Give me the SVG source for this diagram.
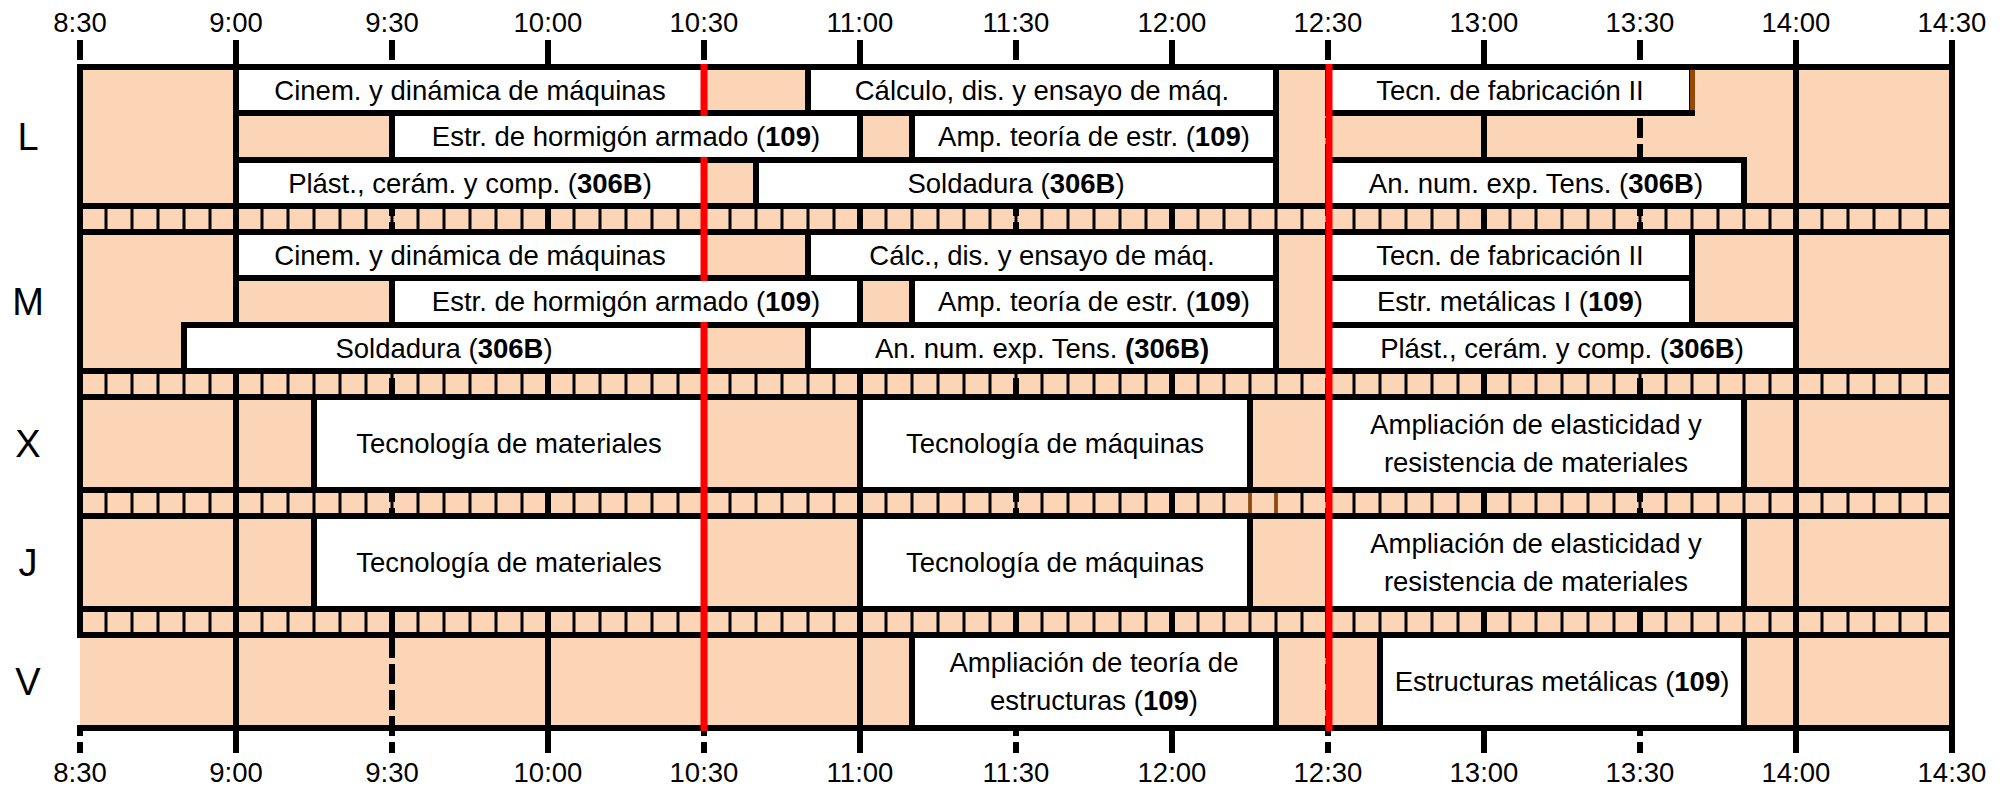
<svg xmlns="http://www.w3.org/2000/svg" width="2005" height="787" viewBox="0 0 2005 787">
<style>
text{font-family:'Liberation Sans',Arial,sans-serif;fill:#000}
.t{font-size:27.5px;text-anchor:middle}
.d{font-size:38px;text-anchor:middle}
.b{font-weight:bold}
.box{fill:#fff;stroke:#000;stroke-width:6}
.hl{stroke:#000;stroke-width:6;stroke-linecap:square}
.vs{stroke:#000;stroke-width:6}
.vd{stroke:#000;stroke-width:6;stroke-dasharray:20 6}
.band{stroke:#000;stroke-dasharray:3 23;stroke-dashoffset:1.5}
.red{stroke:#f00;stroke-width:7}
.brown{stroke:#974806}
</style>
<rect id="background" x="80" y="67" width="1872" height="661" fill="#FBD5B5"/>
<g id="bands">
<line class="band" x1="80" y1="219" x2="1952" y2="219" stroke-width="26"/>
<line class="band" x1="80" y1="384" x2="1952" y2="384" stroke-width="26"/>
<line class="band" x1="80" y1="503" x2="1952" y2="503" stroke-width="26"/>
<line class="band" x1="80" y1="622" x2="1952" y2="622" stroke-width="26"/>
<line class="brown" x1="1250" y1="493" x2="1250" y2="513" stroke-width="3"/>
<line class="brown" x1="1276" y1="493" x2="1276" y2="513" stroke-width="3"/>
</g>
<g id="connectors">
<line class="vd" x1="80" y1="40" x2="80" y2="64"/>
<line class="vd" x1="80" y1="731" x2="80" y2="753" style="stroke-dashoffset:15"/>
<line class="vs" x1="80" y1="64" x2="80" y2="638"/>
<line class="vs" x1="236" y1="40" x2="236" y2="753"/>
<line class="vd" x1="392" y1="40" x2="392" y2="753"/>
<line class="vs" x1="548" y1="40" x2="548" y2="753"/>
<line class="vd" x1="704" y1="40" x2="704" y2="753"/>
<line class="vs" x1="860" y1="40" x2="860" y2="753"/>
<line class="vd" x1="1016" y1="40" x2="1016" y2="753"/>
<line class="vs" x1="1172" y1="40" x2="1172" y2="753"/>
<line class="vd" x1="1328" y1="40" x2="1328" y2="753"/>
<line class="vs" x1="1484" y1="40" x2="1484" y2="753"/>
<line class="vd" x1="1640" y1="40" x2="1640" y2="753"/>
<line class="vs" x1="1796" y1="40" x2="1796" y2="753"/>
<line class="vs" x1="1952" y1="40" x2="1952" y2="753"/>
<line class="hl" x1="80" y1="67" x2="1952" y2="67"/>
<line class="hl" x1="80" y1="206" x2="1952" y2="206"/>
<line class="hl" x1="80" y1="232" x2="1952" y2="232"/>
<line class="hl" x1="80" y1="371" x2="1952" y2="371"/>
<line class="hl" x1="80" y1="397" x2="1952" y2="397"/>
<line class="hl" x1="80" y1="490" x2="1952" y2="490"/>
<line class="hl" x1="80" y1="516" x2="1952" y2="516"/>
<line class="hl" x1="80" y1="609" x2="1952" y2="609"/>
<line class="hl" x1="80" y1="635" x2="1952" y2="635"/>
<line class="hl" x1="80" y1="728" x2="1952" y2="728"/>
</g>
<g id="time-labels">
<text class="t" x="80" y="32">8:30</text><text class="t" x="236" y="32">9:00</text><text class="t" x="392" y="32">9:30</text><text class="t" x="548" y="32">10:00</text><text class="t" x="704" y="32">10:30</text><text class="t" x="860" y="32">11:00</text><text class="t" x="1016" y="32">11:30</text><text class="t" x="1172" y="32">12:00</text><text class="t" x="1328" y="32">12:30</text><text class="t" x="1484" y="32">13:00</text><text class="t" x="1640" y="32">13:30</text><text class="t" x="1796" y="32">14:00</text><text class="t" x="1952" y="32">14:30</text>
<text class="t" x="80" y="782">8:30</text><text class="t" x="236" y="782">9:00</text><text class="t" x="392" y="782">9:30</text><text class="t" x="548" y="782">10:00</text><text class="t" x="704" y="782">10:30</text><text class="t" x="860" y="782">11:00</text><text class="t" x="1016" y="782">11:30</text><text class="t" x="1172" y="782">12:00</text><text class="t" x="1328" y="782">12:30</text><text class="t" x="1484" y="782">13:00</text><text class="t" x="1640" y="782">13:30</text><text class="t" x="1796" y="782">14:00</text><text class="t" x="1952" y="782">14:30</text>
</g>
<g id="day-labels">
<text class="d" x="28" y="150">L</text><text class="d" x="28" y="315">M</text><text class="d" x="28" y="457">X</text><text class="d" x="28" y="576">J</text><text class="d" x="28" y="695">V</text>
</g>
<g id="L-cinem"><rect class="box" x="236" y="67" width="468" height="46"/><text class="t" x="470" y="100">Cinem. y dinámica de máquinas</text></g>
<g id="L-calculo"><rect class="box" x="808" y="67" width="468" height="46"/><text class="t" x="1042" y="100">Cálculo, dis. y ensayo de máq.</text></g>
<g id="L-tecn"><rect class="box" x="1328" y="67" width="364" height="46"/><text class="t" x="1510" y="100">Tecn. de fabricación II</text><line class="brown" x1="1692.5" y1="70" x2="1692.5" y2="110" stroke-width="5"/></g>
<g id="L-estr"><rect class="box" x="392" y="113" width="468" height="47"/><text class="t" x="626" y="146.3">Estr. de hormigón armado (<tspan class="b">109</tspan>)</text></g>
<g id="L-amp"><rect class="box" x="912" y="113" width="364" height="47"/><text class="t" x="1094" y="146.3">Amp. teoría de estr. (<tspan class="b">109</tspan>)</text></g>
<g id="L-plast"><rect class="box" x="236" y="160" width="468" height="46"/><text class="t" x="470" y="192.8">Plást., cerám. y comp. (<tspan class="b">306B</tspan>)</text></g>
<g id="L-sold"><rect class="box" x="756" y="160" width="520" height="46"/><text class="t" x="1016" y="192.8">Soldadura (<tspan class="b">306B</tspan>)</text></g>
<g id="L-annum"><rect class="box" x="1328" y="160" width="416" height="46"/><text class="t" x="1536" y="192.8">An. num. exp. Tens. (<tspan class="b">306B</tspan>)</text></g>
<g id="M-cinem"><rect class="box" x="236" y="232" width="468" height="46"/><text class="t" x="470" y="264.8">Cinem. y dinámica de máquinas</text></g>
<g id="M-calc"><rect class="box" x="808" y="232" width="468" height="46"/><text class="t" x="1042" y="264.8">Cálc., dis. y ensayo de máq.</text></g>
<g id="M-tecn"><rect class="box" x="1328" y="232" width="364" height="46"/><text class="t" x="1510" y="264.8">Tecn. de fabricación II</text></g>
<g id="M-estr"><rect class="box" x="392" y="278" width="468" height="47"/><text class="t" x="626" y="311.3">Estr. de hormigón armado (<tspan class="b">109</tspan>)</text></g>
<g id="M-amp"><rect class="box" x="912" y="278" width="364" height="47"/><text class="t" x="1094" y="311.3">Amp. teoría de estr. (<tspan class="b">109</tspan>)</text></g>
<g id="M-metal"><rect class="box" x="1328" y="278" width="364" height="47"/><text class="t" x="1510" y="311.3">Estr. metálicas I (<tspan class="b">109</tspan>)</text></g>
<g id="M-sold"><rect class="box" x="184" y="325" width="520" height="46"/><text class="t" x="444" y="357.8">Soldadura (<tspan class="b">306B</tspan>)</text></g>
<g id="M-annum"><rect class="box" x="808" y="325" width="468" height="46"/><text class="t" x="1042" y="357.8">An. num. exp. Tens. <tspan class="b">(306B)</tspan></text></g>
<g id="M-plast"><rect class="box" x="1328" y="325" width="468" height="46"/><text class="t" x="1562" y="357.8">Plást., cerám. y comp. (<tspan class="b">306B</tspan>)</text></g>
<g id="X-tecmat"><rect class="box" x="314" y="397" width="390" height="93"/><text class="t" x="509" y="453.3">Tecnología de materiales</text></g>
<g id="X-tecmaq"><rect class="box" x="860" y="397" width="390" height="93"/><text class="t" x="1055" y="453.3">Tecnología de máquinas</text></g>
<g id="X-ampl"><rect class="box" x="1328" y="397" width="416" height="93"/><text class="t" x="1536" y="434.3">Ampliación de elasticidad y</text><text class="t" x="1536" y="472.3">resistencia de materiales</text></g>
<g id="J-tecmat"><rect class="box" x="314" y="516" width="390" height="93"/><text class="t" x="509" y="572.3">Tecnología de materiales</text></g>
<g id="J-tecmaq"><rect class="box" x="860" y="516" width="390" height="93"/><text class="t" x="1055" y="572.3">Tecnología de máquinas</text></g>
<g id="J-ampl"><rect class="box" x="1328" y="516" width="416" height="93"/><text class="t" x="1536" y="553.3">Ampliación de elasticidad y</text><text class="t" x="1536" y="591.3">resistencia de materiales</text></g>
<g id="V-amp"><rect class="box" x="912" y="635" width="364" height="93"/><text class="t" x="1094" y="672.3">Ampliación de teoría de</text><text class="t" x="1094" y="710.3">estructuras (<tspan class="b">109</tspan>)</text></g>
<g id="V-metal"><rect class="box" x="1380" y="635" width="364" height="93"/><text class="t" x="1562" y="691.3">Estructuras metálicas (<tspan class="b">109</tspan>)</text></g>
<g id="red-lines">
<line class="red" x1="704" y1="64" x2="704" y2="116"/>
<line class="red" x1="704" y1="157" x2="704" y2="281"/>
<line class="red" x1="704" y1="322" x2="704" y2="731"/>
<line class="red" x1="1329" y1="64" x2="1329" y2="731"/>
</g>
</svg>
